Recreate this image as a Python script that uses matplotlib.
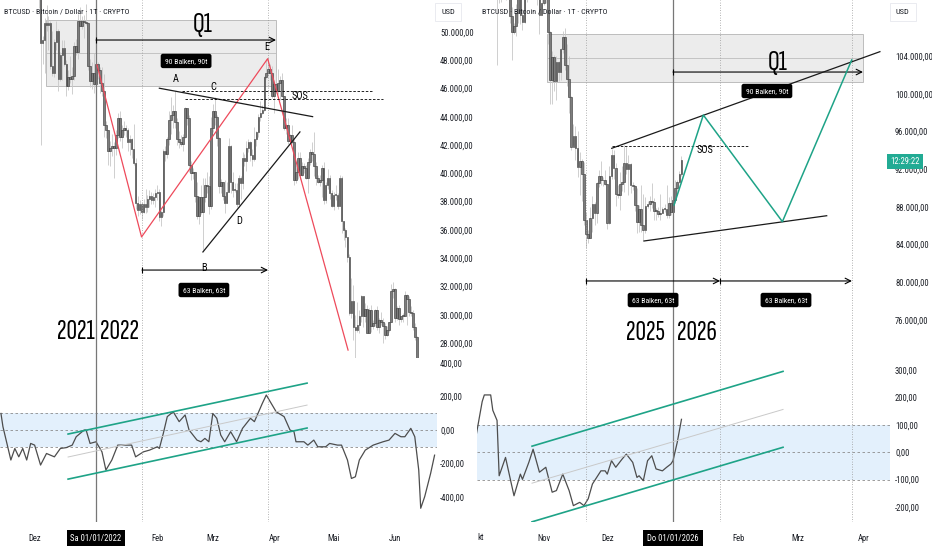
import matplotlib
matplotlib.use("Agg")
import matplotlib.pyplot as plt
from matplotlib.patches import Rectangle

plt.rcParams['font.family'] = ['Roboto Condensed', 'DejaVu Sans']
BIG_FONT = ['Sofia Sans Extra Condensed', 'Roboto Condensed', 'DejaVu Sans']

W, H = 932, 550

# ---------------- data ----------------
# left chart: daily candles 01.12.2021 - 20.06.2022, prices in 1000 USD
# day numbers are counted from 01.01.2022
left_first_day = -31
left_first_open = 56.9
left_close = [
    57.2, 56.5, 53.6, 49.2, 49.4, 50.6, 50.5, 50.6, 47.6, 47.1, 49.3, 50.1, 46.7, 48.4, 48.9, 47.7,
    46.2, 46.8, 46.7, 46.9, 49.0, 48.6, 50.8, 50.4, 50.8, 50.7, 50.6, 47.6, 46.5, 47.1, 46.3,
    47.7, 47.3, 46.4, 45.8, 43.4, 43.1, 41.6, 41.8, 41.9, 41.8, 42.7, 43.9, 42.6, 43.1, 43.2, 43.1,
    42.2, 42.4, 41.7, 40.7, 37.9, 37.4, 37.8, 37.3, 37.8, 37.6, 38.2, 38.4, 38.1, 38.3, 38.6,
    38.7, 36.9, 37.3, 41.6, 41.4, 42.4, 43.8, 44.1, 44.4, 43.6, 42.4, 42.2, 42.1, 42.6, 44.6, 43.9,
    40.6, 40.0, 40.1, 38.4, 37.0, 38.3, 37.3, 38.3, 39.2, 39.1, 37.7, 43.2,
    44.4, 44.0, 42.5, 39.1, 39.4, 38.4, 37.9, 38.7, 41.9, 39.4, 38.8, 38.8, 37.8, 39.7, 39.3, 41.1,
    40.9, 41.8, 42.2, 41.3, 41.0, 42.4, 42.9, 44.0, 44.3, 44.5, 46.8, 47.1, 47.4, 47.1, 45.5,
    46.3, 45.8, 46.4, 46.6, 45.5, 43.2, 43.4, 42.3, 42.7, 42.2, 39.5, 40.1, 41.1, 39.9, 40.5, 40.4,
    39.7, 40.8, 41.5, 41.4, 40.5, 39.7, 39.4, 39.5, 40.4, 38.1, 39.2, 39.7, 38.6, 37.7,
    38.5, 38.5, 37.7, 39.7, 36.6, 36.0, 35.5, 34.1, 30.1, 31.0, 29.1, 28.9, 29.3, 29.9, 31.3, 29.9,
    30.4, 28.7, 30.3, 29.2, 29.4, 30.3, 29.1, 29.6, 29.5, 29.2, 28.6, 28.9, 29.5, 31.7, 31.8,
    29.8, 30.5, 29.7, 29.9, 29.9, 31.4, 31.1, 30.2, 30.1, 29.1, 28.4, 26.6, 22.5, 22.2, 22.6, 20.4,
    20.5, 19.0, 20.6, 20.6,
]
left_high = [
    59.1, 57.4, 57.6, 53.9, 49.7, 51.0, 51.9, 51.1, 50.8, 50.1, 49.5, 50.8, 50.2, 48.6, 49.4, 49.4,
    48.0, 47.3, 48.3, 47.5, 49.3, 49.5, 51.3, 51.8, 51.1, 51.2, 52.0, 50.7, 48.1, 47.9, 48.5,
    47.9, 47.9, 47.5, 47.5, 47.0, 43.7, 43.1, 42.3, 42.8, 42.2, 43.1, 44.3, 44.4, 43.4, 43.7, 43.4,
    43.2, 42.7, 42.5, 43.5, 41.1, 38.4, 38.1, 38.0, 38.2, 38.9, 38.5, 38.8, 38.7, 38.6, 38.9,
    39.2, 38.9, 37.4, 41.7, 41.9, 42.6, 44.4, 45.4, 44.8, 45.8, 43.9, 43.0, 42.7, 42.8, 44.7, 44.5,
    44.1, 40.9, 40.4, 40.1, 39.4, 38.4, 39.2, 39.7, 39.7, 40.1, 39.8, 44.0,
    44.9, 45.4, 44.1, 42.6, 39.6, 39.4, 39.5, 39.4, 42.5, 42.0, 40.1, 39.3, 39.3, 39.9, 39.8, 41.5,
    41.4, 42.3, 42.4, 42.3, 41.7, 43.3, 43.0, 44.2, 45.1, 44.8, 46.9, 48.1, 48.2, 47.7, 47.6,
    46.6, 47.2, 47.4, 46.9, 47.1, 45.5, 43.9, 43.9, 42.8, 43.4, 42.4, 40.6, 41.5, 41.5, 40.8, 40.7,
    40.6, 41.1, 41.7, 42.2, 42.9, 40.8, 39.9, 39.9, 40.6, 40.8, 39.4, 40.3, 39.9, 38.8,
    38.7, 39.2, 38.6, 39.9, 39.8, 36.6, 36.1, 35.5, 34.3, 32.6, 32.1, 30.0, 30.9, 30.3, 31.4, 31.3,
    30.8, 30.7, 30.5, 30.7, 29.6, 30.4, 30.6, 29.8, 30.2, 29.8, 29.4, 29.2, 29.5, 32.2, 32.3,
    31.9, 30.6, 30.7, 29.9, 30.1, 31.7, 31.5, 31.3, 30.6, 30.3, 29.4, 28.5, 26.9, 23.0, 22.7, 22.9,
    21.3, 20.8, 20.8, 21.1,
]
left_low = [
    56.5, 55.9, 51.7, 42.0, 47.7, 47.1, 50.1, 48.7, 47.4, 46.9, 46.8, 48.7, 45.8, 46.5, 46.6, 47.6,
    45.5, 45.9, 46.4, 45.6, 46.6, 48.4, 48.1, 50.4, 50.2, 49.6, 50.5, 47.3, 46.1, 46.0, 45.7,
    46.2, 46.7, 45.7, 45.5, 42.6, 42.5, 40.6, 40.5, 41.2, 39.7, 41.3, 42.5, 42.3, 41.8, 42.7, 42.6,
    41.6, 41.3, 41.1, 40.6, 37.5, 37.0, 37.1, 36.8, 37.2, 37.2, 37.3, 37.6, 37.8, 37.8, 37.6,
    38.1, 36.6, 36.3, 37.0, 40.9, 41.1, 42.0, 42.8, 43.2, 43.2, 42.0, 41.8, 41.9, 41.6, 42.5, 43.4,
    40.1, 39.5, 39.6, 38.0, 36.8, 36.4, 37.1, 34.6, 38.0, 38.6, 37.1, 37.5,
    42.9, 43.4, 41.9, 38.6, 38.6, 38.1, 37.2, 37.9, 38.8, 38.6, 38.3, 38.7, 37.6, 37.6, 38.2, 38.9,
    40.5, 40.2, 41.5, 40.9, 40.5, 40.9, 41.9, 42.6, 43.7, 44.2, 44.4, 46.7, 46.9, 46.6, 45.3,
    44.3, 45.7, 45.6, 45.2, 45.4, 43.1, 42.8, 42.1, 42.1, 42.1, 39.2, 39.3, 39.6, 39.6, 39.8, 40.0,
    39.6, 38.6, 40.6, 40.9, 39.8, 39.2, 39.3, 39.1, 38.3, 37.8, 37.9, 38.9, 38.2, 37.6,
    37.4, 38.1, 37.5, 37.7, 35.8, 35.3, 34.8, 33.7, 30.0, 29.8, 28.2, 26.7, 28.8, 28.7, 29.5, 29.1,
    29.5, 28.7, 28.7, 28.8, 29.0, 29.2, 28.9, 28.7, 29.3, 28.0, 28.3, 28.5, 28.8, 29.5, 31.2,
    29.5, 29.6, 29.3, 29.5, 29.5, 29.9, 29.3, 29.9, 29.9, 28.9, 28.2, 26.6, 22.0, 20.9, 20.2, 20.3,
    20.3, 17.6, 18.0, 19.7,
]

# oscillator under the left chart
left_osc_day = [-48, -47, -43, -41, -39, -37, -35, -33, -31, -28, -25, -21, -18, -15, -12, -10,
                -6, -5, -3, 0, 3, 5, 8, 11, 14, 18, 20, 24, 27, 31, 32, 34, 36, 39, 42, 45,
                47, 51, 53, 55, 57, 59, 61, 63, 65, 68, 71, 74, 78, 80, 84, 86, 89, 91, 95, 98,
                100, 101, 105, 107, 110, 112, 116, 118, 122, 124, 127, 129, 131, 133, 136, 140,
                145, 148, 151, 154, 156, 159, 161, 163, 164, 166, 169, 171]
left_osc_val = [99, 20, -179, -110, -160, -110, -179, -80, -90, -209, -140, -160, -110, -105,
                -90, -40, 0, 0, -80, -70, -130, -239, -179, -90, -90, -90, -160, -130, -120,
                -100, -110, -20, 80, 109, 50, 90, 0, -60, -70, -50, -70, 99, 70, -30, -70, -10,
                -70, 10, 70, 50, 159, 209, 149, 109, 80, 0, -10, -70, -70, -90, -60, -100, -100,
                -80, -90, -90, -179, -289, -279, -179, -120, -90, -70, -60, -20, -40, -40, 10,
                -40, -239, -467, -398, -259, -150]

# right chart: daily candles 01.10.2025 - 05.01.2026, prices in 1000 USD
# day numbers are counted from 01.01.2026
right_first_day = -92
right_first_open = 114.0
right_close = [
    118.6, 120.6, 122.2, 122.4, 123.5, 124.7, 121.4, 123.3, 121.7, 113.2, 110.6, 115.2, 115.3,
    113.1, 110.8, 108.2, 106.5, 107.2, 108.6, 110.6, 108.4, 107.6, 110.1, 111.0, 111.6, 114.5,
    114.1, 112.9, 110.0, 108.3, 109.6,
    110.1, 110.6, 106.5, 101.5, 103.9, 101.3, 103.4, 102.3, 104.7, 106.0, 103.0, 101.6, 99.6,
    94.4, 95.5, 94.2, 92.2, 92.9, 91.5, 86.6, 85.1, 84.7, 86.8, 88.3, 87.3, 90.5, 91.3, 90.9,
    90.8, 90.4,
    86.3, 91.3, 93.5, 92.1, 89.4, 89.3, 90.4, 90.6, 92.7, 92.0, 92.5, 90.3, 90.2, 88.2, 86.4,
    87.8, 86.1, 85.5, 88.1, 88.3, 88.6, 88.5, 87.6, 87.6, 87.2, 87.3, 87.8, 87.8, 87.1, 88.4, 87.5,
    88.7, 90.0, 90.6, 91.5, 93.0,
]
right_high = [
    118.7, 121.0, 123.9, 122.9, 125.7, 126.2, 125.0, 124.2, 123.8, 122.5, 113.5, 115.8, 116.0,
    115.4, 113.6, 111.9, 109.2, 107.5, 109.5, 111.7, 114.0, 109.0, 111.3, 112.0, 111.9, 115.0,
    116.3, 116.0, 113.6, 111.5, 111.2,
    110.6, 111.2, 110.7, 106.7, 104.5, 104.1, 104.0, 103.5, 104.9, 106.6, 107.0, 105.3, 104.0,
    99.8, 96.8, 96.6, 96.0, 93.8, 93.1, 92.8, 87.5, 85.5, 88.0, 89.2, 88.5, 90.6, 91.9, 92.9,
    91.2, 91.9,
    90.4, 92.3, 94.1, 94.0, 92.7, 90.3, 91.7, 92.3, 94.6, 94.5, 93.5, 92.7, 90.6, 90.3, 90.0,
    88.2, 90.3, 89.4, 89.0, 88.6, 89.1, 90.5, 88.9, 87.9, 88.0, 89.4, 88.0, 88.3, 90.3, 89.0, 89.2,
    88.9, 90.9, 90.8, 91.8, 93.4,
]
right_low = [
    113.9, 118.3, 119.3, 121.6, 122.0, 123.1, 120.6, 121.0, 119.7, 103.0, 109.6, 109.7, 113.0,
    109.9, 110.2, 107.5, 103.6, 106.3, 106.1, 107.5, 107.4, 106.8, 107.5, 109.7, 110.7, 111.3,
    113.8, 112.2, 109.4, 106.3, 108.5,
    109.4, 109.6, 105.3, 98.9, 98.9, 100.3, 99.3, 101.4, 101.5, 104.3, 102.5, 100.8, 98.0,
    94.0, 94.6, 93.0, 91.2, 89.3, 88.6, 86.1, 83.6, 84.2, 84.7, 85.3, 86.1, 86.3, 90.1, 90.3,
    90.2, 90.3,
    85.6, 86.2, 91.0, 91.0, 88.1, 88.9, 87.7, 89.7, 89.6, 91.5, 89.3, 89.5, 89.8, 87.6, 85.2,
    85.3, 85.3, 84.5, 85.2, 87.9, 87.6, 87.9, 86.6, 86.6, 86.9, 86.6, 87.3, 87.5, 86.8, 86.8, 87.1,
    87.3, 88.4, 89.3, 90.5, 91.3,
]

right_osc_day = [-93, -90, -89, -86, -85, -83, -82, -79, -75, -72, -71, -68, -66, -63, -60, -57,
                 -55, -52, -49, -47, -44, -42, -40, -38, -34, -32, -31, -29, -27, -24, -22, -19,
                 -17, -16, -14, -12, -10, -8, -5, -3, -1, 0, 2, 4]
right_osc_val = [55, 185, 209, 209, 153, 116, -86, -19, -159, -80, -99, -37, 11, -73, -55, -146,
                 -140, -80, -140, -195, -183, -195, -170, -116, -68, -68, -80, -31, -55, -25, -7,
                 -37, -92, -86, -104, -31, -13, -61, -68, -55, -43, -31, 36, 120]

# axis labels
left_price_ticks = [28, 30, 32, 34, 36, 38, 40, 42, 44, 46, 48, 50]
right_price_ticks = [76, 80, 84, 88, 92, 96, 100, 104]
left_osc_ticks = [400, 200, 0, -200, -400]
right_osc_ticks = [300, 200, 100, 0, -100, -200]
left_months = ['Dez', 'Feb', 'Mrz', 'Apr', 'Mai', 'Jun']
left_month_days = [-31, 31, 59, 90, 120, 151]
right_months = ['Nov', 'Dez', 'Feb', 'Mrz', 'Apr']
right_month_days = [-61, -31, 31, 59, 90]

# drawings on the charts (day, price)
left_zigzag_x = [0.5, 23.0, 86.7, 127.3]
left_zigzag_y = [47.67, 35.5, 48.11, 27.5]
left_ac_line = [(32.0, 46.02), (109.4, 44.01)]
left_d_line = [(54.0, 34.44), (103.0, 42.93)]
left_box = (-25.3, 90.9, 46.2, 50.85, 48.5)
left_osc_upper = [(-14.1, -24), (106.6, 280)]
left_osc_mid = [(-14.1, -161), (106.6, 149)]
left_osc_lower = [(-14.1, -293), (106.6, 12)]

right_zigzag_x = [0.5, 14.3, 51.6, 84.3]
right_zigzag_y = [88.2, 97.74, 86.43, 103.58]
right_top_line = [(-28.9, 94.21), (97.6, 104.46)]
right_bottom_line = [(-13.7, 84.38), (72.5, 87.06)]
right_box = (-59.4, 89.6, 101.28, 106.3, 103.79)
right_osc_upper = [(-66.5, 22), (51.9, 295)]
right_osc_mid = [(-66.5, -113), (51.9, 156)]
right_osc_lower = [(-66.5, -254), (51.9, 18)]


# ---------------- helpers ----------------
fig = plt.figure(figsize=(W / 100, H / 100), dpi=100)
fig.patch.set_facecolor('white')


def px_axes(x0, y0, x1, y1):
    return fig.add_axes([x0 / W, 1 - y1 / H, (x1 - x0) / W, (y1 - y0) / H])


def de_fmt(v, scale):
    s = f"{v * scale:,.2f}"
    return s.replace(',', 'X').replace('.', ',').replace('X', '.')


def style_axes(ax, xlim, ylim, ticks, scale, pad):
    ax.set_xlim(*xlim)
    ax.set_ylim(*ylim)
    ax.set_xticks([])
    ax.yaxis.tick_right()
    ax.set_yticks(ticks)
    ax.set_yticklabels([de_fmt(t, scale) for t in ticks])
    ax.tick_params(axis='y', length=0, pad=pad, labelsize=6.2, labelcolor='#1c1f26')
    for sp in ax.spines.values():
        sp.set_visible(False)


def draw_candles(ax, first_day, first_open, closes, highs, lows, min_h):
    opens = [first_open] + closes[:-1]
    days = list(range(first_day, first_day + len(closes)))
    ax.vlines(days, lows, highs, color='#c8c8c8', lw=0.6, zorder=2)
    bottoms = [min(o, c) for o, c in zip(opens, closes)]
    heights = [max(abs(c - o), min_h) for o, c in zip(opens, closes)]
    ax.bar(days, heights, bottom=bottoms, width=0.8, color='#7d7d7d',
           edgecolor='#333333', linewidth=0.4, zorder=3)


def draw_box(ax, box):
    x0, x1, y0, y1, ymid = box
    ax.add_patch(Rectangle((x0, y0), x1 - x0, y1 - y0, facecolor='#ececec',
                           edgecolor='#bdbdbd', lw=0.7, zorder=1))
    ax.plot([x0, x1], [ymid, ymid], color='#bdbdbd', lw=0.6, zorder=1)


def dim_arrow(ax, x0, x1, y):
    ax.annotate('', xy=(x1, y), xytext=(x0, y),
                arrowprops=dict(arrowstyle='->', lw=0.8, color='black',
                                shrinkA=0, shrinkB=0), zorder=5)
    ax.plot([x0], [y], marker='|', ms=4, color='black', mew=0.8, zorder=5)


def tag(ax, x, y, s):
    ax.text(x, y, s, ha='center', va='center', fontsize=5.5, color='white', zorder=7,
            bbox=dict(boxstyle='round,pad=0.55,rounding_size=0.3', fc='black', ec='none'))


def vlines(ax, dotted):
    ax.axvline(0, color='#777777', lw=0.9, zorder=4)
    for d in dotted:
        ax.axvline(d, color='#9a9a9a', lw=0.6, ls=(0, (1, 2)), zorder=4)


def osc_panel(ax, days, vals, upper, mid, lower):
    ax.axhspan(-100, 100, color='#e3f0fc', zorder=0, lw=0)
    for v in (-100, 0, 100):
        ax.axhline(v, color='#8c8c8c', lw=0.6, ls=(0, (3, 3)), zorder=1)
    ax.plot(days, vals, color='#4d4d4d', lw=0.9, zorder=3)
    for line, c, w in ((upper, '#1ea387', 1.2), (mid, '#c9c9c9', 0.7), (lower, '#1ea387', 1.2)):
        ax.plot([line[0][0], line[1][0]], [line[0][1], line[1][1]], color=c, lw=w, zorder=4)


def date_labels(ax, days, names, box_text):
    tr = ax.get_xaxis_transform()
    for d, n in zip(days, names):
        ax.text(d, -0.098, n, transform=tr, ha='center', va='center', fontsize=6.2,
                color='#1c1f26', clip_on=False)
    ax.text(0, -0.098, box_text, transform=tr, ha='center', va='center', fontsize=6.2,
            color='white', clip_on=False, zorder=8,
            bbox=dict(boxstyle='square,pad=0.45', fc='black', ec='none'))


def fig_text(x, y, s, **kw):
    fig.text(x / W, 1 - y / H, s, **kw)


# ---------------- left chart ----------------
left_xlim = ((0 - 96) / 1.98, (437 - 96) / 1.98)
axL = px_axes(0, 0, 437, 358)
axLo = px_axes(0, 358, 437, 522)
style_axes(axL, left_xlim, (26.94, 52.26), left_price_ticks, 1000, 2.2)
style_axes(axLo, left_xlim, (-549, 430), left_osc_ticks, 1, 2.2)

draw_box(axL, left_box)
draw_candles(axL, left_first_day, left_first_open, left_close, left_high, left_low, 0.06)
vlines(axL, [23.2, 86.9])
vlines(axLo, [23.2, 86.9])

axL.text((203 - 96) / 1.98, 50.5, 'Q1', ha='center', va='center', fontsize=21,
         family=BIG_FONT, zorder=6)
dim_arrow(axL, 0, 90.9, 49.43)
tag(axL, 45.5, 47.95, '90 Balken, 90t')
axL.plot(left_zigzag_x, left_zigzag_y, color='#ee4a5b', lw=0.9, zorder=5)
axL.plot(*zip(*left_ac_line), color='#1a1a1a', lw=0.9, zorder=5)
axL.plot(*zip(*left_d_line), color='#1a1a1a', lw=0.9, zorder=5)
axL.plot([43.3, 140.1], [45.83, 45.83], color='black', lw=0.6, ls=(0, (3, 2)), zorder=5)
axL.plot([45.0, 145.1], [45.26, 45.26], color='black', lw=0.6, ls=(0, (3, 2)), zorder=5)
for x, y, s in ((86.4, 48.94, 'E'), (40.4, 46.65, 'A'), (59.2, 46.09, 'C'),
                (103.0, 45.45, 'SOS'), (72.2, 36.63, 'D'), (54.5, 33.3, 'B')):
    axL.text(x, y, s, ha='center', va='center', fontsize=7.5, zorder=6)
dim_arrow(axL, 23.2, 86.9, 33.16)
tag(axL, 54.5, 31.75, '63 Balken, 63t')
axL.text(-0.5, 28.78, '2021', ha='right', va='center', fontsize=21, family=BIG_FONT, zorder=6)
axL.text(2.0, 28.78, '2022', ha='left', va='center', fontsize=21, family=BIG_FONT, zorder=6)

osc_panel(axLo, left_osc_day, left_osc_val, left_osc_upper, left_osc_mid, left_osc_lower)
date_labels(axLo, left_month_days, left_months, 'Sa 01/01/2022')

# ---------------- right chart ----------------
right_xlim = ((477 - 673) / 2.12, (890 - 673) / 2.12)
axR = px_axes(477, 0, 890, 358)
axRo = px_axes(477, 358, 890, 522)
style_axes(axR, right_xlim, (71.97, 109.94), right_price_ticks, 1000, 3.6)
style_axes(axRo, right_xlim, (-254.7, 343.8), right_osc_ticks, 1, 3.6)

draw_box(axR, right_box)
draw_candles(axR, right_first_day, right_first_open, right_close, right_high, right_low, 0.1)
vlines(axR, [-41.0, 22.2, 84.4])
vlines(axRo, [-41.0, 22.2, 84.4])

axR.text(49.5, 103.3, 'Q1', ha='center', va='center', fontsize=21, family=BIG_FONT, zorder=6)
dim_arrow(axR, 0, 89.6, 102.3)
tag(axR, 44.3, 100.29, '90 Balken, 90t')
axR.plot(*zip(*right_top_line), color='#1a1a1a', lw=0.9, zorder=5)
axR.plot(*zip(*right_bottom_line), color='#1a1a1a', lw=0.9, zorder=5)
axR.plot([-28.9, 35.5], [94.49, 94.49], color='black', lw=0.6, ls=(0, (3, 2)), zorder=5)
axR.text(15.1, 94.0, 'SOS', ha='center', va='center', fontsize=7.5, zorder=6)
axR.plot(right_zigzag_x, right_zigzag_y, color='#1ea387', lw=1.1, zorder=5)
dim_arrow(axR, -41.0, 22.2, 80.14)
dim_arrow(axR, 22.2, 84.4, 80.14)
tag(axR, -9.4, 78.12, '63 Balken, 63t')
tag(axR, 53.3, 78.12, '63 Balken, 63t')
axR.text(-3.8, 74.65, '2025', ha='right', va='center', fontsize=21, family=BIG_FONT, zorder=6)
axR.text(1.9, 74.65, '2026', ha='left', va='center', fontsize=21, family=BIG_FONT, zorder=6)

osc_panel(axRo, right_osc_day, right_osc_val, right_osc_upper, right_osc_mid, right_osc_lower)
date_labels(axRo, right_month_days, right_months, 'Do 01/01/2026')

# ---------------- header / axis extras ----------------
title = 'BTCUSD \u00b7 Bitcoin / Dollar \u00b7 1T \u00b7 CRYPTO'
fig_text(4, 12, title, ha='left', va='center', fontsize=5.8, color='#1c1f26')
fig_text(482, 12, title, ha='left', va='center', fontsize=5.8, color='#1c1f26')
for x in (441, 896):
    fig_text(x, 12, 'USD', ha='left', va='center', fontsize=6, color='#1c1f26',
             bbox=dict(boxstyle='square,pad=0.7', fc='white', ec='#e6e8ee', lw=0.6))
fig_text(905, 161.5, '12:29:22', ha='center', va='center', fontsize=6.2, color='white',
         bbox=dict(boxstyle='square,pad=0.35', fc='#22ab94', ec='none'))
fig_text(477, 538, 'kt', ha='left', va='center', fontsize=6.2, color='#1c1f26')

fig.savefig('out.png', dpi=100)
